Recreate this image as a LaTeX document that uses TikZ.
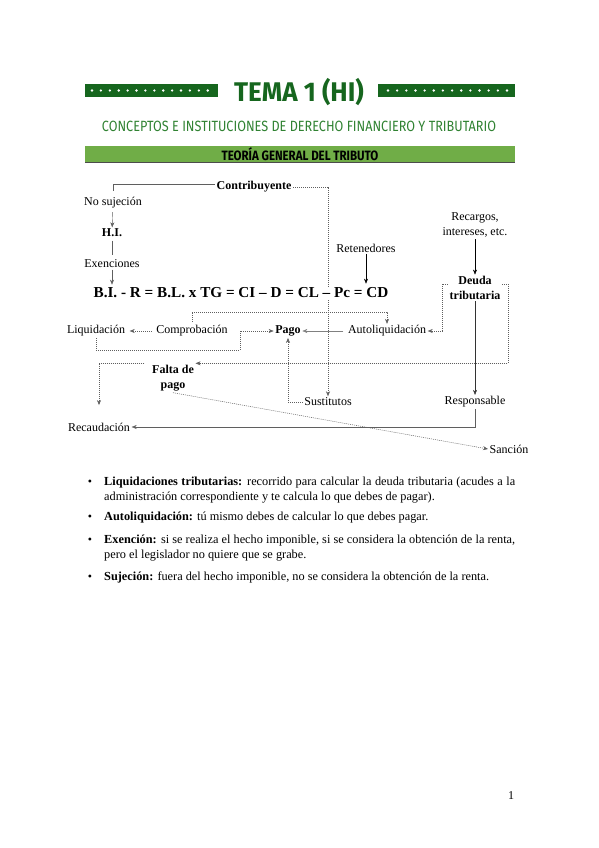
\documentclass[tikz,border=0pt]{standalone}
\usepackage{fontspec}
\setmainfont{Liberation Serif}
\newfontfamily\headfont{Fira Sans}
\usepackage{graphicx}
\usepackage{tikz}
\usetikzlibrary{arrows.meta,backgrounds}
\definecolor{darkgrn}{RGB}{22,102,30}
\definecolor{subgrn}{RGB}{48,130,50}
\definecolor{bargrn}{RGB}{112,173,71}
\definecolor{lnegray}{RGB}{95,95,95}
\tikzset{
  lbl/.style={font=\fontsize{12}{15}\selectfont, inner sep=1.5pt, align=center},
  blbl/.style={lbl, font=\fontsize{12}{15}\selectfont\bfseries},
  bul/.style={anchor=north west, text width=411pt, align=justify, inner sep=0pt,
    font=\fontsize{12.3}{14.5}\selectfont},
  dots/.style={dash pattern=on 1pt off 1pt, lnegray, line width=0.5pt},
  solidln/.style={lnegray, thin},
  >={Stealth[length=5pt,width=4pt]},
}

\begin{document}
\begin{tikzpicture}[x=1pt,y=-1pt]
        \useasboundingbox (0,0) rectangle (599,848);
        % cabecera
        \fill[darkgrn] (85,84) rectangle (218,97);
        \fill[darkgrn] (378,84) rectangle (515,97);
        \foreach \i in {0,...,13} {
            \fill[white] (92+\i*8.9,90.5) circle (1.3);
            \fill[white] (388+\i*9.15,90.5) circle (1.3);
        }
        \node[text=darkgrn, font=\headfont\bfseries\fontsize{20}{20}\selectfont] (tema) at (299,92) {\scalebox{1.3}[1.35]{TEMA 1 (HI)}};
        \node[text=subgrn, font=\headfont\fontsize{11}{11}\selectfont] (subt) at (299,126) {\scalebox{1.15}[1.35]{CONCEPTOS E INSTITUCIONES DE DERECHO FINANCIERO Y TRIBUTARIO}};
        \fill[bargrn] (85,146) rectangle (515,162);
        \draw[black!70, thin] (85,162.5) -- (515,162.5);
        \node[font=\headfont\bfseries\fontsize{10}{10}\selectfont] (teoria) at (300,154) {\scalebox{1.15}[1.35]{TEORÍA GENERAL DEL TRIBUTO}};

        % esquema
        \node[blbl] (contrib) at (254,187) {Contribuyente};
        \node[lbl] (nosuj) at (113,203) {No sujeción};
        \node[blbl] (hi) at (112,233) {H.I.};
        \node[lbl] (exen) at (112,264) {Exenciones};
        \node[lbl] (recarg) at (475,225) {Recargos,\\intereses, etc.};
        \node[lbl] (reten) at (366,248) {Retenedores};
        \node[fill=white, inner sep=1pt, font=\fontsize{15.2}{18}\selectfont\bfseries] (eq) at (241,293) {B.I. - R = B.L. x TG = CI – D = CL – Pc = CD};
        \node[blbl] (deuda) at (475,288) {Deuda\\tributaria};
        \node[lbl] (liq) at (96,331) {Liquidación};
        \node[lbl] (compr) at (192,331) {Comprobación};
        \node[blbl] (pago) at (288,331) {Pago};
        \node[lbl] (autol) at (387,331) {Autoliquidación};
        \node[blbl] (falta) at (173,378) {Falta de\\pago};
        \node[lbl] (sust) at (328,402) {Sustitutos};
        \node[lbl] (respon) at (475,402) {Responsable};
        \node[lbl] (recaud) at (99,427) {Recaudación};
        \node[lbl] (sancion) at (509,449) {Sanción};
        \coordinate (liqturn) at (240,350);

        \begin{scope}[on background layer]
            \draw[dots, ->] (contrib.east) -| (sust.north);
        \end{scope}
        \draw[solidln] ([yshift=3pt]contrib.west) -| ([yshift=5pt]nosuj.north);
        \draw[solidln, ->, shorten <=2pt] (nosuj) -- (hi);
        \draw[solidln, shorten <=2pt, shorten >=3pt] (hi) -- (exen);
        \draw[solidln, ->, shorten >=2pt] (exen) -- (exen |- eq.north);
        \draw[black, ->, shorten >=3pt] (reten) -- (reten |- eq.north);
        \draw[black, ->] (recarg) -- (deuda);
        \draw[dots, ->] ([yshift=4pt]deuda.west) -- ++(-6,0) |- (autol.east);
        \draw[dots, ->] ([yshift=4pt]deuda.east) -- ++(6,0) |- (falta.north east);
        \draw[black!80, ->] (deuda) -- (respon);
        \draw[solidln, ->] (respon) |- (recaud);
        \draw[dots, ->, shorten <=6pt, shorten >=16pt] (falta.north west) -| (recaud.north);
        \draw[dots, ->] (falta.south) -- (sancion.west);
        \draw[dots, ->, shorten <=3pt, shorten >=3pt] (compr) -- (liq);
        \draw[dots, ->] (liq.south) |- (liqturn) |- (pago.west);
        \draw[gray, ->, shorten <=3pt] (autol) -- (pago);
        \draw[dots, ->, shorten <=2pt] (compr.north) -- ++(0,-12) -| (autol.north);
        \draw[dots, ->] (sust.west) -| (pago.south);

        % definiciones
        \foreach \n/\y in {1/483, 2/518, 3/541, 4/578}
            \node[lbl] (dot\n) at (90,\y) {•};
        \node[bul] (b1) at (104,477) {\textbf{Liquidaciones tributarias:} recorrido para calcular la deuda tributaria (acudes a la\linebreak administración correspondiente y te calcula lo que debes de pagar).};
        \node[bul] (b2) at (104,512) {\textbf{Autoliquidación:} tú mismo debes de calcular lo que debes pagar.};
        \node[bul] (b3) at (104,535) {\textbf{Exención:} si se realiza el hecho imponible, si se considera la obtención de la renta,\linebreak pero el legislador no quiere que se grabe.};
        \node[bul] (b4) at (104,572) {\textbf{Sujeción:} fuera del hecho imponible, no se considera la obtención de la renta.};
        \node[lbl] (pnum) at (511,796) {1};
\end{tikzpicture}
\end{document}
